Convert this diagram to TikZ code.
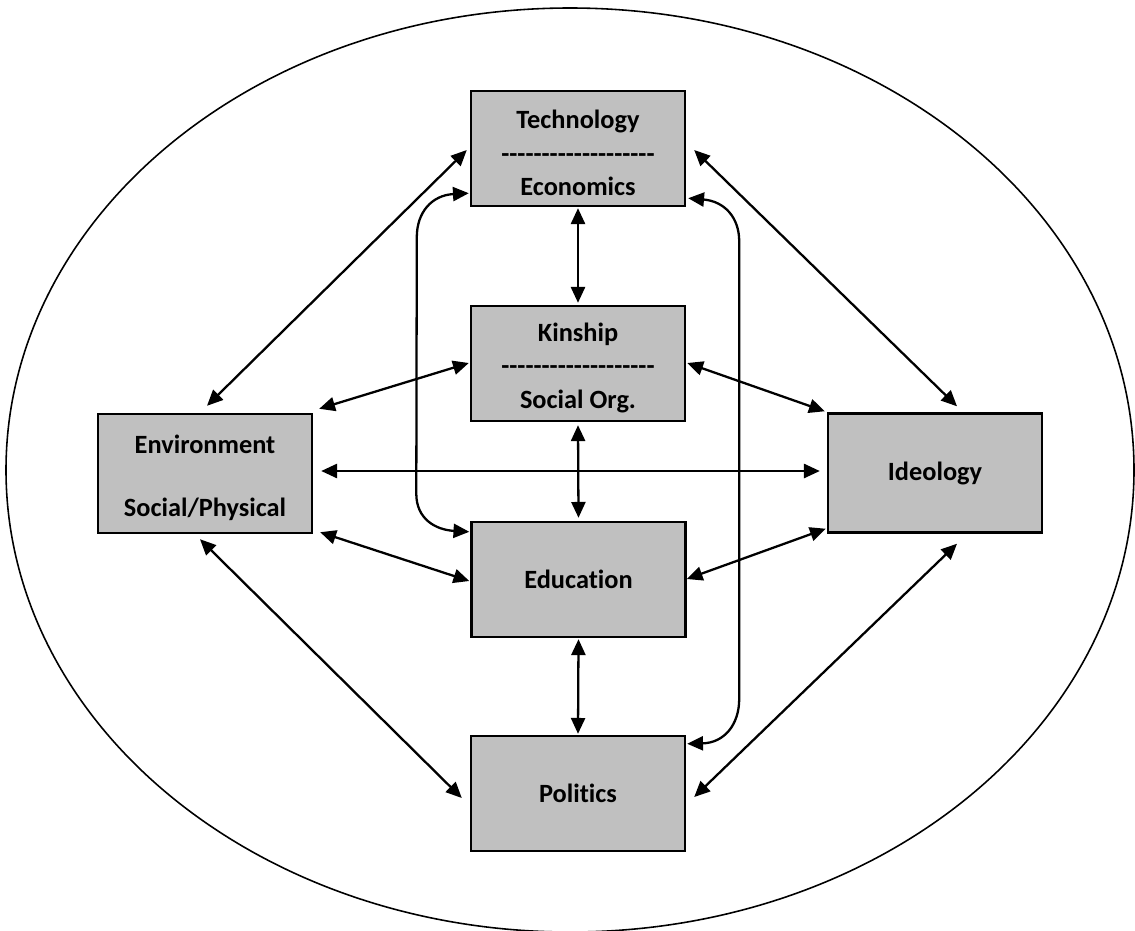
\documentclass[tikz,border=0pt]{standalone}
\usepackage{fontspec}
\setmainfont{Carlito}[Ligatures=NoCommon]
\usetikzlibrary{arrows.meta,calc}
\definecolor{boxgray}{RGB}{192,192,192}
\newcommand{\dashrow}{\foreach \i in {1,...,19}{\hbox{-}}}
\newcommand{\topstrut}{\rule{0pt}{15.5pt}}

\begin{document}
\begin{tikzpicture}[
	x=0.02cm, y=-0.02cm,
	factor/.style = {draw, line width=1.4pt, fill=boxgray,
		minimum width=4.28cm, minimum height=2.3cm, inner sep=0pt,
		align=center, font=\fontsize{15}{19}\selectfont\bfseries},
	wide factor/.style = {factor, minimum height=2.38cm},
	link/.style = {line width=1.3pt,
		{Triangle[length=9pt,width=8pt]}-{Triangle[length=9pt,width=8pt]}}
	]
	\useasboundingbox (0,0) rectangle (1135,930);
	\draw [line width=0.9pt] (570,470) ellipse [x radius=564, y radius=462];

	\node [factor] (tech) at (578,148.5) {\topstrut Technology\\\dashrow\\Economics};
	\node [factor] (kin) at (578,363.5) {\topstrut Kinship\\\dashrow\\Social Org.};
	\node [wide factor] (env) at (205,473.5) {\topstrut Environment\\[17pt]Social/Physical};
	\node [wide factor] (ideo) at (935,473) {Ideology};
	\node [factor] (edu) at (578.5,579.5) {Education};
	\node [factor] (pol) at (578,793.5) {Politics};

	\draw [link] ($(env.north)+(2,-7)$) -- ($(tech.west)+(-3,1.5)$);
	\draw [link] ($(tech.east)+(8,1.5)$) -- ($(ideo.north)+(22,-6)$);
	\draw [link] ($(tech.south)+(0,1)$) -- ($(kin.north)+(0,-2)$);
	\draw [link] ($(env.north east)+(6,-4)$) -- ($(kin.west)+(-1,-0.5)$);
	\draw [link] ($(kin.east)+(1,-0.5)$) -- ($(ideo.north west)+(-2,-1)$);
	\draw [link] ($(env.east)+(8,-2.5)$) -- ($(ideo.west)+(-7,-2)$);
	\draw [link] ($(kin.south)+(0,3)$) -- ($(edu.north)+(0,-3)$);
	\draw [link] ($(env.south east)+(7,-2)$) -- ($(edu.west)+(-1,1.5)$);
	\draw [link] ($(ideo.south west)+(-1,-5)$) -- ($(edu.east)+(0,-0.5)$);
	\draw [link] ($(edu.south)+(0,1)$) -- ($(pol.north)+(0,-1)$);
	\draw [link] ($(env.south)+(-5,5)$) -- ($(pol.west)+(-8,4.5)$);
	\draw [link] ($(ideo.south)+(22,10)$) -- ($(pol.east)+(8,3.5)$);

	\draw [link] ($(tech.south west)+(-1,-14)$)
		.. controls ($(tech.south west)+(-38,-12)$) and ($(tech.south west)+(-53,5)$) .. ($(tech.south west)+(-53,30)$)
		-- ($(edu.north west)+(-54,-27)$)
		.. controls ($(edu.north west)+(-54,-2)$) and ($(edu.north west)+(-35,9)$) .. ($(edu.north west)+(-1,11)$);
	\draw [link] ($(tech.south east)+(2,-9)$)
		.. controls ($(tech.south east)+(38,-6)$) and ($(tech.south east)+(53,10)$) .. ($(tech.south east)+(53,34)$)
		-- ($(pol.north east)+(53,-36)$)
		.. controls ($(pol.north east)+(53,-10)$) and ($(pol.north east)+(38,8)$) .. ($(pol.north east)+(1,9)$);
\end{tikzpicture}
\end{document}
